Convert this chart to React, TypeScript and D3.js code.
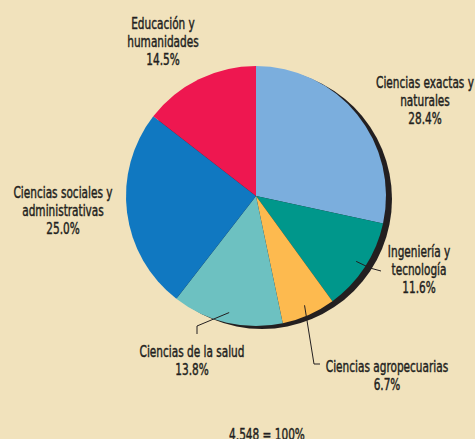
import React from 'react';
import * as d3 from 'd3';

// Data
const categories = [
  'Ciencias exactas y naturales',
  'Ingeniería y tecnología',
  'Ciencias agropecuarias',
  'Ciencias de la salud',
  'Ciencias sociales y administrativas',
  'Educación y humanidades',
];
const values = [28.4, 11.6, 6.7, 13.8, 25.0, 14.5];
const labelLines = [
  ['Ciencias exactas y', 'naturales'],
  ['Ingeniería y', 'tecnología'],
  ['Ciencias agropecuarias'],
  ['Ciencias de la salud'],
  ['Ciencias sociales y', 'administrativas'],
  ['Educación y', 'humanidades'],
];
const colors = ['#7BAEDD', '#00978B', '#FDBA4F', '#6DC1C1', '#1078C1', '#EE1750'];
const totalLabel = '4,548 = 100%';

const W = 475;
const H = 439;
const cx = 256;
const cy = 196;
const R = 130;

// label anchor (centre x, first baseline y)
const labelPos: [number, number][] = [
  [425, 88],
  [419, 257],
  [387, 372],
  [192, 357],
  [63, 198],
  [163, 29],
];
const lineH = 18;

// leader line ends for labels that have one
const leaders: Record<number, [number, number][]> = {
  1: [[370, 268], [381, 271]],
  2: [[314, 364], [320, 364]],
  3: [[197, 326], [197, 334]],
};

const fontFamily = '"DejaVu Sans Condensed", "Liberation Sans Narrow", sans-serif';
const ink = '#231F20';
const squeeze = 0.71;
const fontSize = 16.5;

export default function App() {
  const pie = d3.pie<number>().sort(null).value((d) => d);
  const arcs = pie(values);
  const arc = d3.arc<d3.PieArcDatum<number>>().innerRadius(0).outerRadius(R);
  const leaderArc = d3.arc<d3.PieArcDatum<number>>().innerRadius(R * 0.92).outerRadius(R * 0.92);

  return (
    <svg
      width={W}
      height={H}
      style={{ position: 'absolute', left: 0, top: 0, display: 'block' }}
    >
      <rect width={W} height={H} fill="#F1E2BC" />
      <circle cx={cx + 6} cy={cy + 3} r={R} fill={ink} />
      <g transform={`translate(${cx},${cy})`}>
        {arcs.map((a, i) => (
          <path key={categories[i]} d={arc(a) || ''} fill={colors[i]} />
        ))}
      </g>
      {arcs.map((a, i) => {
        const ends = leaders[i];
        if (!ends) return null;
        const [sx, sy] = leaderArc.centroid(a);
        const pts = [[cx + sx, cy + sy], ...ends];
        return (
          <polyline
            key={'l' + i}
            points={pts.map((p) => p.join(',')).join(' ')}
            fill="none"
            stroke={ink}
            strokeWidth={1}
          />
        );
      })}
      {labelLines.map((lines, i) => {
        const [x, y] = labelPos[i];
        const all = [...lines, values[i].toFixed(1) + '%'];
        return (
          <g key={'t' + i} transform={`translate(${x},${y}) scale(${squeeze},1)`}>
            {all.map((t, j) => (
              <text
                key={j}
                x={0}
                y={j * lineH}
                textAnchor="middle"
                fontFamily={fontFamily}
                fontSize={fontSize}
                fill={ink}
                stroke={ink}
                strokeWidth={0.45}
              >
                {t}
              </text>
            ))}
          </g>
        );
      })}
      <g transform={`translate(267,440) scale(${squeeze},1)`}>
        <text
          textAnchor="middle"
          fontFamily={fontFamily}
          fontSize={fontSize}
          fill={ink}
          stroke={ink}
          strokeWidth={0.45}
        >
          {totalLabel}
        </text>
      </g>
    </svg>
  );
}
